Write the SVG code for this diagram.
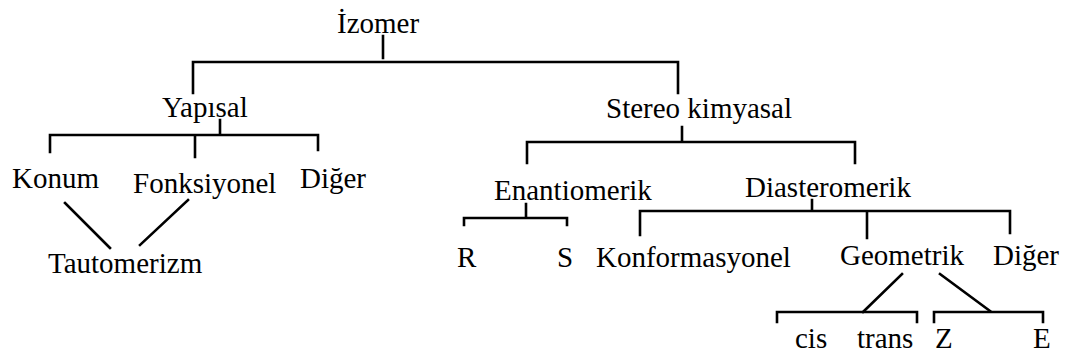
<svg xmlns="http://www.w3.org/2000/svg" width="1068" height="358" viewBox="0 0 1068 358">
<style>
text{font-family:"Liberation Serif","Times New Roman",serif;font-size:29px;fill:#000}
.c{fill:none;stroke:#000;stroke-width:2.6;stroke-linecap:square;stroke-linejoin:miter}
</style>
<rect width="1068" height="358" fill="#fff"/>
<g id="connectors">
<path class="c" d="M383 36V58M193 93V62H678V93"/>
<path class="c" d="M220 120V135M50 152V135H318V150M195 135V157"/>
<path class="c" d="M65 203L110 248M188 200L140 245"/>
<path class="c" d="M682 127V142M527 163V142H855V163"/>
<path class="c" d="M526 204V218M464 225V218H567V225"/>
<path class="c" d="M812 200V211M640 235V211H1010V233M867 211V238"/>
<path class="c" d="M902 274L863 312M940 274L990 311"/>
<path class="c" d="M777 322V312H917V322M934 322V312H1043V322"/>
</g>
<g id="n-izomer"><text x="337" y="33">İzomer</text></g>
<g id="n-yapisal"><text x="162" y="117">Yapısal</text></g>
<g id="n-stereo"><text x="606" y="118">Stereo kimyasal</text></g>
<g id="n-konum"><text x="12" y="188">Konum</text></g>
<g id="n-fonksiyonel"><text x="133" y="193">Fonksiyonel</text></g>
<g id="n-diger1"><text x="300" y="188">Diğer</text></g>
<g id="n-tautomerizm"><text x="48" y="273">Tautomerizm</text></g>
<g id="n-enantiomerik"><text x="494" y="200">Enantiomerik</text></g>
<g id="n-diasteromerik"><text x="745" y="197">Diasteromerik</text></g>
<g id="n-r"><text x="457" y="267">R</text></g>
<g id="n-s"><text x="557" y="267">S</text></g>
<g id="n-konformasyonel"><text x="596" y="267">Konformasyonel</text></g>
<g id="n-geometrik"><text x="840" y="265">Geometrik</text></g>
<g id="n-diger2"><text x="993" y="265">Diğer</text></g>
<g id="n-cis"><text x="795" y="348">cis</text></g>
<g id="n-trans"><text x="857" y="348">trans</text></g>
<g id="n-z"><text x="935" y="348">Z</text></g>
<g id="n-e"><text x="1033" y="348">E</text></g>
</svg>
